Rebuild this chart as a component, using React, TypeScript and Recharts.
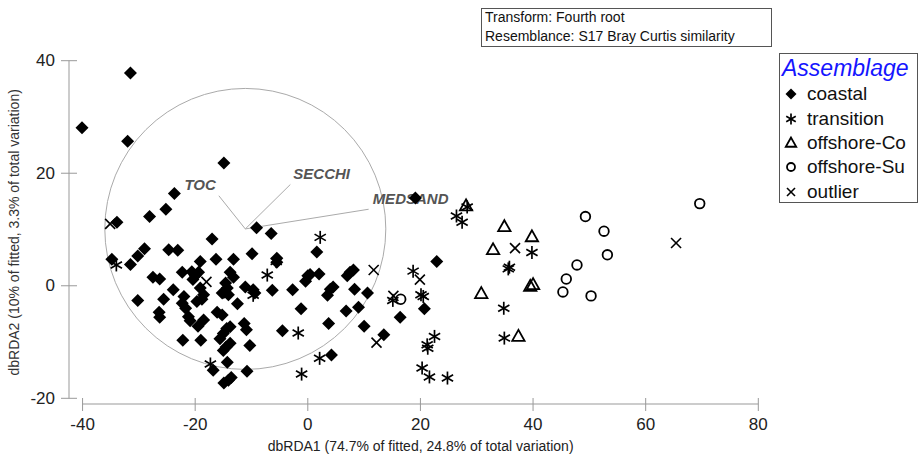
import React from "react";
import {
  ScatterChart,
  Scatter,
  XAxis,
  YAxis,
  ReferenceDot,
  ReferenceLine,
  Legend,
} from "recharts";

type Pt = { x: number; y: number };

// dbRDA1 / dbRDA2 scores
const COASTAL: Pt[] = [
  { x: -31.5, y: 37.8 }, { x: -40.1, y: 28.1 }, { x: -32.0, y: 25.7 }, { x: -14.9, y: 21.8 },
  { x: -23.7, y: 16.4 }, { x: -25.2, y: 13.6 }, { x: -28.1, y: 12.3 }, { x: -33.9, y: 11.3 },
  { x: -9.1, y: 10.3 }, { x: -6.5, y: 9.3 }, { x: -17.0, y: 8.3 }, { x: -29.0, y: 6.6 },
  { x: -30.2, y: 5.3 }, { x: -31.5, y: 3.8 }, { x: -34.8, y: 4.7 }, { x: -24.7, y: 6.4 },
  { x: -23.1, y: 6.3 }, { x: -16.3, y: 4.7 }, { x: -13.2, y: 4.7 }, { x: -19.1, y: 4.3 },
  { x: -9.9, y: 5.7 }, { x: 1.6, y: 6.0 }, { x: -5.5, y: 4.9 }, { x: -5.5, y: 4.2 },
  { x: -22.3, y: 2.4 }, { x: -20.6, y: 2.5 }, { x: -20.0, y: 1.8 }, { x: -20.4, y: 1.1 },
  { x: -19.4, y: 2.4 }, { x: -13.8, y: 2.4 }, { x: -13.2, y: 1.5 }, { x: -27.5, y: 1.5 },
  { x: -26.3, y: 1.2 }, { x: -14.6, y: 0.5 }, { x: -14.3, y: -0.4 }, { x: -14.9, y: -1.2 },
  { x: -14.1, y: -1.6 }, { x: -11.1, y: -0.2 }, { x: -9.7, y: -0.7 }, { x: -9.4, y: -1.3 },
  { x: -6.3, y: -0.8 }, { x: -2.7, y: -0.7 }, { x: -0.4, y: 0.8 }, { x: 0.0, y: 1.8 },
  { x: 0.4, y: 2.0 }, { x: 2.0, y: 2.1 }, { x: 7.5, y: 2.4 }, { x: 8.1, y: 2.8 },
  { x: 7.0, y: 1.8 }, { x: 4.0, y: -0.6 }, { x: 4.5, y: -0.2 }, { x: 3.5, y: -1.7 },
  { x: 8.3, y: -0.6 }, { x: 10.6, y: -1.3 }, { x: 16.4, y: -5.6 }, { x: -30.2, y: -2.6 },
  { x: -25.6, y: -2.4 }, { x: -23.9, y: -0.7 }, { x: -22.0, y: -1.9 }, { x: -22.3, y: -3.1 },
  { x: -21.7, y: -4.0 }, { x: -21.2, y: -5.5 }, { x: -20.9, y: -6.2 }, { x: -26.4, y: -4.7 },
  { x: -26.3, y: -5.6 }, { x: -19.5, y: -7.2 }, { x: -18.5, y: -6.1 }, { x: -19.1, y: -0.4 },
  { x: -18.5, y: -1.6 }, { x: -18.8, y: -2.4 }, { x: -19.7, y: -2.8 }, { x: -16.1, y: -4.7 },
  { x: -15.2, y: -5.2 }, { x: -12.5, y: -3.2 }, { x: -14.4, y: -7.6 }, { x: -15.0, y: -8.5 },
  { x: -15.6, y: -9.4 }, { x: -13.8, y: -7.3 }, { x: -11.3, y: -6.7 }, { x: -10.9, y: -7.8 },
  { x: -13.8, y: -10.2 }, { x: -14.5, y: -10.9 }, { x: -15.0, y: -11.5 }, { x: -10.3, y: -10.6 },
  { x: -22.2, y: -9.7 }, { x: -19.0, y: -9.7 }, { x: -4.5, y: -8.0 }, { x: -1.2, y: -4.1 },
  { x: 6.8, y: -4.5 }, { x: 9.0, y: -3.8 }, { x: 3.7, y: -6.7 }, { x: 10.0, y: -7.2 },
  { x: 13.5, y: -8.7 }, { x: 4.2, y: -12.3 }, { x: -16.8, y: -15.0 }, { x: -14.3, y: -13.6 },
  { x: -10.8, y: -15.2 }, { x: -14.9, y: -17.3 }, { x: -14.1, y: -16.8 }, { x: -13.6, y: -16.3 },
  { x: 19.1, y: 15.6 }, { x: 22.9, y: 4.3 }, { x: 20.7, y: -4.1 }, { x: -15.2, y: -1.3 },
];

const TRANSITION: Pt[] = [
  { x: 2.2, y: 8.6 }, { x: -34.0, y: 3.7 }, { x: -5.6, y: 4.3 }, { x: -7.2, y: 1.9 },
  { x: -9.7, y: -1.7 }, { x: -1.7, y: -8.4 }, { x: 2.1, y: -12.9 }, { x: -1.1, y: -15.7 },
  { x: -17.3, y: -13.9 }, { x: 15.1, y: -2.6 }, { x: 18.7, y: 2.6 }, { x: 20.1, y: -1.6 },
  { x: 20.5, y: -1.9 }, { x: 22.5, y: -9.0 }, { x: 21.2, y: -10.5 }, { x: 21.3, y: -11.1 },
  { x: 20.3, y: -14.6 }, { x: 21.6, y: -16.2 }, { x: 24.8, y: -16.4 }, { x: 26.4, y: 12.4 },
  { x: 27.4, y: 11.3 }, { x: 28.3, y: 14.0 }, { x: 39.8, y: 5.9 }, { x: 35.8, y: 3.3 },
  { x: 35.6, y: 3.0 }, { x: 34.8, y: -4.0 }, { x: 34.9, y: -9.3 },
];

const OFFSHORE_CO: Pt[] = [
  { x: 28.1, y: 14.2 }, { x: 34.9, y: 10.5 }, { x: 39.8, y: 8.7 }, { x: 32.9, y: 6.4 },
  { x: 39.5, y: -0.1 }, { x: 40.0, y: 0.2 }, { x: 30.8, y: -1.4 }, { x: 37.4, y: -9.0 },
];

const OFFSHORE_SU: Pt[] = [
  { x: 16.5, y: -2.4 }, { x: 49.3, y: 12.3 }, { x: 52.6, y: 9.7 }, { x: 53.2, y: 5.5 },
  { x: 47.8, y: 3.7 }, { x: 45.9, y: 1.2 }, { x: 45.3, y: -1.1 }, { x: 50.3, y: -1.8 },
  { x: 69.6, y: 14.6 },
];

const OUTLIER: Pt[] = [
  { x: -35.1, y: 11.0 }, { x: -18.0, y: 0.7 }, { x: 11.7, y: 2.8 }, { x: 15.2, y: -1.8 },
  { x: 19.9, y: 1.1 }, { x: 12.2, y: -10.1 }, { x: 36.8, y: 6.7 }, { x: 65.4, y: 7.6 },
];

// predictor vectors (origin + tips) for the overlay
const VECTOR_ORIGIN: Pt = { x: -11.1, y: 10.1 };
const VECTORS = [
  { name: "TOC", x: -15.8, y: 16.0 },
  { name: "SECCHI", x: -3.1, y: 18.0 },
  { name: "MEDSAND", x: 10.8, y: 13.6 },
];

const X_TICKS = [-40, -20, 0, 20, 40, 60, 80];
const Y_TICKS = [-20, 0, 20, 40];

const X_TITLE = "dbRDA1 (74.7% of fitted, 24.8% of total variation)";
const Y_TITLE = "dbRDA2 (10% of fitted, 3.3% of total variation)";
const NOTE_LINES = ["Transform: Fourth root", "Resemblance: S17 Bray Curtis similarity"];

const FONT = '"Liberation Sans", Arial, sans-serif';
const AXIS_GREY = "#999";
const CIRCLE_R = 140.5;

const LABEL_ANCHOR: Record<string, { anchor: "start" | "end"; dx: number }> = {
  TOC: { anchor: "end", dx: -3 },
  SECCHI: { anchor: "start", dx: 3 },
  MEDSAND: { anchor: "start", dx: 4 },
};

// marker glyphs
const diamond = (cx: number, cy: number, r: number) => (
  <polygon points={`${cx},${cy - r} ${cx + r},${cy} ${cx},${cy + r} ${cx - r},${cy}`} fill="#000" />
);

const asterisk = (cx: number, cy: number, r: number) => {
  const a = r * Math.cos(Math.PI / 6);
  const b = r * 0.5;
  return (
    <g stroke="#000" strokeWidth={1.7}>
      <line x1={cx} y1={cy - r} x2={cx} y2={cy + r} />
      <line x1={cx - a} y1={cy - b} x2={cx + a} y2={cy + b} />
      <line x1={cx - a} y1={cy + b} x2={cx + a} y2={cy - b} />
    </g>
  );
};

const triangle = (cx: number, cy: number, r: number) => (
  <polygon
    points={`${cx},${cy - r} ${cx - r * 0.95},${cy + r * 0.68} ${cx + r * 0.95},${cy + r * 0.68}`}
    fill="none"
    stroke="#000"
    strokeWidth={1.8}
    strokeLinejoin="miter"
  />
);

const ring = (cx: number, cy: number, r: number) => (
  <circle cx={cx} cy={cy} r={r} fill="none" stroke="#000" strokeWidth={1.8} />
);

const cross = (cx: number, cy: number, r: number) => (
  <g stroke="#000" strokeWidth={1.6}>
    <line x1={cx - r} y1={cy - r} x2={cx + r} y2={cy + r} />
    <line x1={cx - r} y1={cy + r} x2={cx + r} y2={cy - r} />
  </g>
);

const GLYPHS: Record<string, { draw: typeof diamond; size: number; legendSize: number }> = {
  coastal: { draw: diamond, size: 6.5, legendSize: 5.5 },
  transition: { draw: asterisk, size: 6.5, legendSize: 5.5 },
  "offshore-Co": { draw: triangle, size: 6.5, legendSize: 5.5 },
  "offshore-Su": { draw: ring, size: 4.8, legendSize: 4 },
  outlier: { draw: cross, size: 5, legendSize: 4 },
};

const SERIES: { name: string; data: Pt[] }[] = [
  { name: "coastal", data: COASTAL },
  { name: "transition", data: TRANSITION },
  { name: "offshore-Co", data: OFFSHORE_CO },
  { name: "offshore-Su", data: OFFSHORE_SU },
  { name: "outlier", data: OUTLIER },
];
const SERIES_ORDER = SERIES.map((s) => s.name);

function XTick({ x, y, payload }: any) {
  return (
    <g>
      <line x1={x} x2={x} y1={y - 6} y2={y + 7} stroke={AXIS_GREY} />
      <text x={x} y={y + 26} textAnchor="middle" fontSize={17} fill="#222" fontFamily={FONT}>
        {payload.value}
      </text>
    </g>
  );
}

function YTick({ x, y, payload }: any) {
  return (
    <g>
      <line x1={x - 8} x2={x + 8} y1={y} y2={y} stroke={AXIS_GREY} />
      <text x={x - 14} y={y} textAnchor="end" dominantBaseline="central" fontSize={17} fill="#222" fontFamily={FONT}>
        {payload.value}
      </text>
    </g>
  );
}

function XTitle({ viewBox }: any) {
  const { x, y, width } = viewBox;
  return (
    <text x={x + width / 2 + 7} y={y + 47} textAnchor="middle" fontSize={14} fill="#222" fontFamily={FONT}>
      {X_TITLE}
    </text>
  );
}

function YTitle({ viewBox }: any) {
  const { x, y, height } = viewBox;
  const cx = x + 14;
  const cy = y + height / 2;
  return (
    <text
      x={cx}
      y={cy}
      transform={`rotate(-90 ${cx} ${cy})`}
      textAnchor="middle"
      dominantBaseline="central"
      fontSize={14}
      fill="#333"
      fontFamily={FONT}
    >
      {Y_TITLE}
    </text>
  );
}

function VectorLabel(props: any) {
  const { cx, cy, payload } = props;
  const a = LABEL_ANCHOR[payload.name];
  return (
    <text
      x={cx + a.dx}
      y={cy - 5.5}
      textAnchor={a.anchor}
      fontSize={15}
      fontWeight="bold"
      fontStyle="italic"
      fill="#555"
      fontFamily={FONT}
    >
      {payload.name}
    </text>
  );
}

function LegendBox({ payload }: any) {
  const items = (payload || [])
    .filter((p: any) => GLYPHS[p.value])
    .sort((a: any, b: any) => SERIES_ORDER.indexOf(a.value) - SERIES_ORDER.indexOf(b.value));
  return (
    <div
      style={{
        width: 139,
        height: 150,
        boxSizing: "border-box",
        border: "1px solid #555",
        background: "#fff",
        fontFamily: FONT,
        color: "#111",
      }}
    >
      <div style={{ height: 28, lineHeight: "28px", paddingLeft: 2, fontSize: 23, fontStyle: "italic", color: "#1515ff" }}>
        Assemblage
      </div>
      {items.map((entry: any) => {
        const g = GLYPHS[entry.value];
        return (
          <div key={entry.value} style={{ display: "flex", alignItems: "center", height: 24.4, paddingLeft: 3 }}>
            <svg width={16} height={16} style={{ marginRight: 8 }}>
              {g.draw(8, 8, g.legendSize)}
            </svg>
            <span style={{ fontSize: 19 }}>{entry.value}</span>
          </div>
        );
      })}
    </div>
  );
}

export default function App() {
  return (
    <div style={{ position: "absolute", left: 0, top: 0, width: 919, height: 457, background: "#fff", fontFamily: FONT }}>
      <ScatterChart
        width={919}
        height={457}
        margin={{ top: 60.7, right: 160.7, bottom: 0, left: 0 }}
        style={{ fontFamily: FONT }}
      >
        <XAxis
          type="number"
          dataKey="x"
          domain={[-40, 80]}
          ticks={X_TICKS}
          height={53}
          padding={{ left: 13, right: 0 }}
          tickSize={0}
          tickMargin={0}
          tickLine={false}
          tick={<XTick />}
          axisLine={{ stroke: AXIS_GREY, strokeDasharray: "0 13 1000" }}
          label={<XTitle />}
        />
        <YAxis
          type="number"
          dataKey="y"
          domain={[-20, 40]}
          ticks={Y_TICKS}
          width={69}
          padding={{ top: 0, bottom: 5.7 }}
          tickSize={0}
          tickMargin={0}
          tickLine={false}
          tick={<YTick />}
          axisLine={{ stroke: AXIS_GREY, strokeDasharray: "337.6 100" }}
          label={<YTitle />}
        />
        <ReferenceDot
          x={VECTOR_ORIGIN.x}
          y={VECTOR_ORIGIN.y}
          r={CIRCLE_R}
          fill="none"
          stroke="#aaa"
          strokeWidth={1}
        />
        {VECTORS.map((v) => (
          <ReferenceLine
            key={v.name}
            segment={[VECTOR_ORIGIN, { x: v.x, y: v.y }]}
            stroke="#aaa"
            strokeWidth={1}
          />
        ))}
        <Scatter
          name="vectors"
          data={VECTORS}
          legendType="none"
          isAnimationActive={false}
          shape={(p: any) => <VectorLabel {...p} />}
        />
        {SERIES.map((s) => {
          const g = GLYPHS[s.name];
          return (
            <Scatter
              key={s.name}
              name={s.name}
              data={s.data}
              fill="#000"
              isAnimationActive={false}
              shape={(p: any) => g.draw(p.cx, p.cy, g.size)}
            />
          );
        })}
        <Legend
          layout="vertical"
          align="center"
          verticalAlign="middle"
          content={<LegendBox />}
          wrapperStyle={{ left: 779, top: 53, width: 139, height: 150 }}
        />
      </ScatterChart>
      <div
        style={{
          position: "absolute",
          left: 481,
          top: 8,
          width: 291,
          height: 39,
          boxSizing: "border-box",
          border: "1px solid #555",
          background: "#fff",
          fontSize: 14,
          color: "#111",
          paddingLeft: 3,
        }}
      >
        <div style={{ position: "relative", top: -1.5 }}>
          {NOTE_LINES.map((t) => (
            <div key={t} style={{ lineHeight: "19px", whiteSpace: "nowrap" }}>
              {t}
            </div>
          ))}
        </div>
      </div>
    </div>
  );
}
